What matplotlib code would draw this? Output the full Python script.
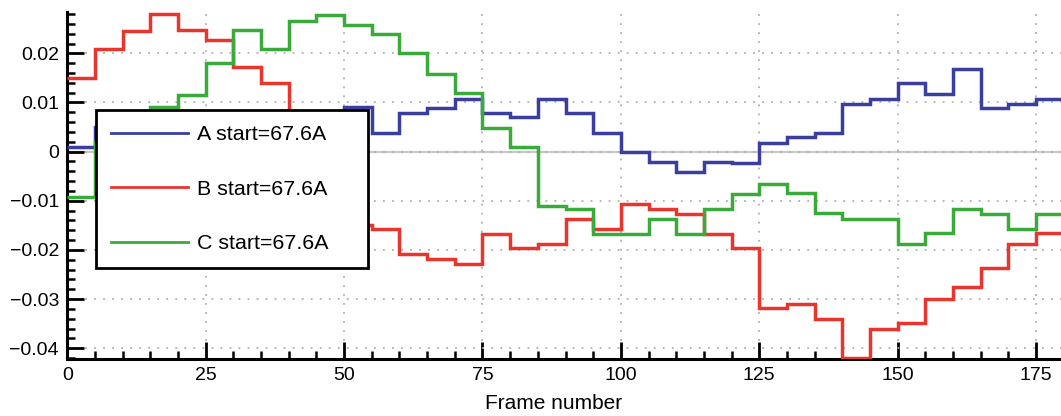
import numpy as np
import matplotlib
matplotlib.use('Agg')
import matplotlib.pyplot as plt
from matplotlib.ticker import MultipleLocator

plt.rcParams['font.family'] = ['Liberation Sans', 'DejaVu Sans']

# step bins of 5 frames, 0..180
edges = np.arange(0, 185, 5)

a_vals = [0.0010, 0.0050, 0.0060, 0.0070, 0.0060, 0.0070, 0.0050, 0.0060, 0.0070, 0.0060,
          0.0090, 0.0038, 0.0078, 0.0088, 0.0108, 0.0078, 0.0070, 0.0108, 0.0078, 0.0038,
          0.0000, -0.0022, -0.0041, -0.0022, -0.0023, 0.0018, 0.0029, 0.0038, 0.0097, 0.0108,
          0.0139, 0.0118, 0.0168, 0.0088, 0.0097, 0.0108]
b_vals = [0.0150, 0.0208, 0.0246, 0.0280, 0.0247, 0.0227, 0.0173, 0.0140, -0.0050, -0.0130,
          -0.0150, -0.0158, -0.0208, -0.0218, -0.0228, -0.0168, -0.0197, -0.0187, -0.0137, -0.0158,
          -0.0107, -0.0116, -0.0127, -0.0168, -0.0197, -0.0319, -0.0310, -0.0340, -0.0420, -0.0361,
          -0.0349, -0.0300, -0.0276, -0.0237, -0.0187, -0.0166]
c_vals = [-0.0092, 0.0020, 0.0060, 0.0091, 0.0115, 0.0180, 0.0247, 0.0208, 0.0266, 0.0278,
          0.0258, 0.0239, 0.0200, 0.0158, 0.0120, 0.0048, 0.0010, -0.0110, -0.0116, -0.0168,
          -0.0168, -0.0137, -0.0168, -0.0116, -0.0086, -0.0066, -0.0084, -0.0125, -0.0137, -0.0137,
          -0.0187, -0.0166, -0.0116, -0.0127, -0.0158, -0.0127]
labels = ['A start=67.6A', 'B start=67.6A', 'C start=67.6A']
colors = ['#3a3e9e', '#e8352e', '#3aaa3a']

fig = plt.figure(figsize=(10.61, 4.16), dpi=100)
ax = fig.add_axes([0.0634, 0.137, 0.9366, 0.834])

ax.axhline(0, color='#c8c8c8', lw=1.6, zorder=1)
for vals, lab, col in zip([a_vals, b_vals, c_vals], labels, colors):
    ax.stairs(vals, edges, baseline=None, color=col, lw=2.5, label=lab, zorder=3)

ax.set_xlim(0, 179.5)
ax.set_ylim(-0.0422, 0.0284)
ax.xaxis.set_major_locator(MultipleLocator(25))
ax.xaxis.set_minor_locator(MultipleLocator(5))
ax.yaxis.set_major_locator(MultipleLocator(0.01))
ax.yaxis.set_minor_locator(MultipleLocator(0.002))
ax.yaxis.set_major_formatter(plt.FuncFormatter(lambda v, p: '0' if abs(v) < 1e-9 else f'{v:.2f}'.replace('-', '\u2212')))

ax.grid(True, which='major', ls=(0, (1, 4)), color='#b0b0b0', lw=1.3, zorder=0)
for s in ['top', 'right']:
    ax.spines[s].set_visible(False)
for s in ['left', 'bottom']:
    ax.spines[s].set_linewidth(2.2)
ax.tick_params(which='major', direction='in', length=12, width=2, labelsize=14, pad=6)
ax.tick_params(which='minor', direction='in', length=6, width=1.8)

ax.set_xlabel('Frame number', fontsize=15, va='top')
ax.xaxis.set_label_coords(0.489, -0.1)

leg = ax.legend(loc='upper left', bbox_to_anchor=(0.0289, 0.265, 0.2737, 0.4526), mode='expand',
                borderaxespad=0, fontsize=15.4, handlelength=3.6, handletextpad=0.4,
                labelspacing=1.65, borderpad=0.72, fancybox=False, framealpha=1,
                edgecolor='black')
leg.get_frame().set_linewidth(2)
for h in leg.get_lines():
    h.set_linewidth(2)

fig.savefig('out.png', dpi=100)
